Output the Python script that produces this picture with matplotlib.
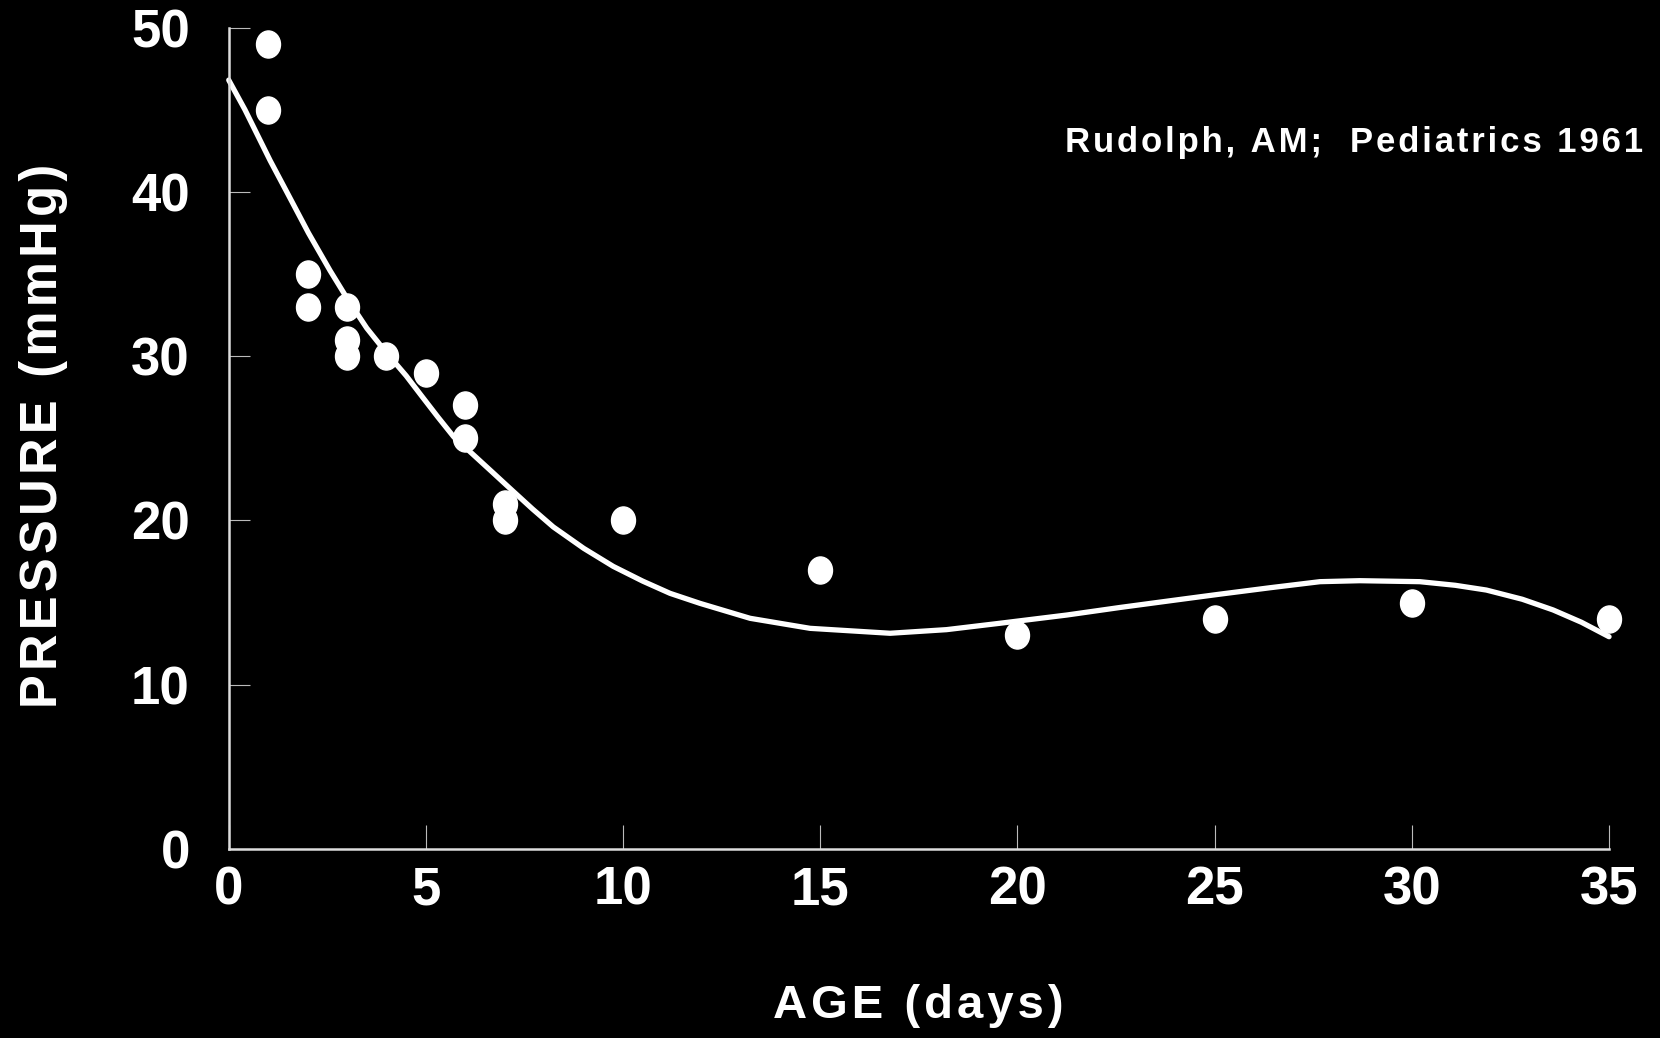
import matplotlib
matplotlib.use('Agg')
import numpy as np
import matplotlib.pyplot as plt
from matplotlib.path import Path
from matplotlib.markers import MarkerStyle

# measured points (age in days, pressure in mmHg)
age = [1, 1, 2, 2, 3, 3, 3, 4, 5, 6, 6, 7, 7, 10, 15, 20, 25, 30, 35]
pressure = [49, 45, 35, 33, 33, 31, 30, 30, 29, 27, 25, 21, 20, 20, 17, 13, 14, 15, 14]

# fitted curve
curve_age = [0, 0.41, 1.05, 1.47, 2.02, 2.57, 3.03, 3.5, 4.0, 4.5, 4.85, 5.3, 5.7, 6.2,
             6.7, 7.13, 7.7, 8.23, 9.0, 9.75, 10.5, 11.19, 11.95, 13.22, 14.74,
             16.77, 18.2, 19.56, 21.25, 22.6, 24.0, 25.1, 26.4, 27.67, 28.68,
             30.2, 31.1, 31.89, 32.8, 33.58, 34.3, 35.0]
curve_pressure = [46.8, 45.0, 41.9, 40.0, 37.5, 35.2, 33.4, 31.7, 30.2, 28.8, 27.7,
                  26.3, 25.1, 24.0, 22.9, 21.95, 20.7, 19.6, 18.3, 17.2, 16.3,
                  15.56, 14.95, 14.04, 13.43, 13.13, 13.35, 13.74, 14.24, 14.7,
                  15.15, 15.5, 15.9, 16.27, 16.33, 16.27, 16.05, 15.76, 15.2, 14.55,
                  13.8, 12.92]

xticks = [0, 5, 10, 15, 20, 25, 30, 35]
yticks = [0, 10, 20, 30, 40, 50]

fams = ['Liberation Sans', 'DejaVu Sans']


def spaced(s, gap='\u200a'):
    # letter spacing by putting a narrow space between characters
    return gap.join(s)


fig = plt.figure(figsize=(16.6, 10.38), dpi=100, facecolor='black')
ax = fig.add_axes([0.1378, 0.1821, 0.9693 - 0.1378, 0.9735 - 0.1821])
ax.set_facecolor('black')

# slightly tall ellipse marker
circ = Path.unit_circle()
ell = Path(circ.vertices * np.array([1.0, 1.13]), circ.codes)
ax.plot(age, pressure, linestyle='none', marker=MarkerStyle(ell), markersize=19.5,
        color='white', clip_on=False, zorder=3)
ax.plot(curve_age, curve_pressure, color='white', linewidth=3.8,
        solid_capstyle='round', solid_joinstyle='round', clip_on=False, zorder=2)

ax.set_xlim(0, 35)
ax.set_ylim(0, 50)
for side in ['top', 'right']:
    ax.spines[side].set_visible(False)
for side in ['left', 'bottom']:
    ax.spines[side].set_color('#dddddd')
    ax.spines[side].set_linewidth(1.8)

ax.set_xticks(xticks)
ax.set_yticks(yticks)
ax.tick_params(axis='x', direction='in', length=17, width=0.8, color='#bbbbbb',
               pad=12, labelsize=38, labelcolor='white')
ax.tick_params(axis='y', direction='in', length=15, width=0.8, color='#bbbbbb',
               pad=28, labelsize=38, labelcolor='white')
for lab in ax.get_xticklabels() + ax.get_yticklabels():
    lab.set_family(fams)
    lab.set_fontweight('bold')

fig.text(0.026, 0.580, spaced('PRESSURE (mmHg)'), rotation=90,
         ha='center', va='center', color='white', fontsize=36.5, fontweight='bold',
         family=fams)
fig.text(0.553, 0.031, spaced('AGE (days)'), ha='center', va='center',
         color='white', fontsize=34, fontweight='bold', family=fams)
ax.text(21.2, 43.0, spaced('Rudolph, AM;  Pediatrics 1961'), ha='left',
        va='center', color='white', fontsize=25, fontweight='bold', family=fams,
        clip_on=False)

fig.savefig('out.png', dpi=100, facecolor='black')
